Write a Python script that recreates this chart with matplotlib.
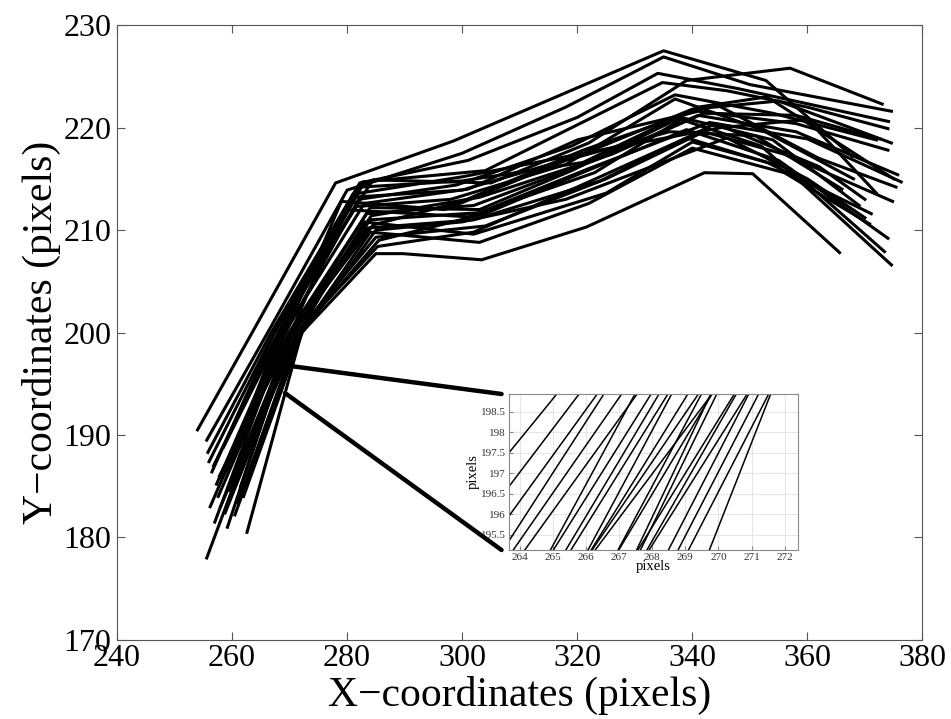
import matplotlib
matplotlib.use("Agg")
import matplotlib.pyplot as plt
from matplotlib.patches import ConnectionPatch

plt.rcParams['font.family'] = ['Liberation Serif', 'DejaVu Serif']

# tracked trajectories (x, y in pixels), one list per trajectory
track_x = [
    [254.0, 263.5, 278.0, 298.5, 335.0, 352.8, 367.8],
    [255.6, 266.2, 280.0, 300.0, 318.0, 335.0, 350.0, 374.6],
    [255.8, 266.8, 282.2, 301.0, 320.0, 334.0, 348.0, 374.1],
    [256.0, 267.3, 282.7, 304.0, 334.8, 346.0, 360.0, 374.0],
    [256.5, 267.4, 284.5, 305.0, 322.0, 339.0, 357.0, 373.0],
    [257.3, 268.8, 280.8, 300.0, 320.0, 340.0, 355.0, 374.6],
    [256.8, 268.0, 281.6, 298.0, 318.0, 337.0, 352.0, 368.0],
    [257.6, 269.9, 283.4, 302.0, 324.0, 341.0, 358.0, 375.7],
    [258.0, 270.6, 284.0, 303.0, 322.0, 343.0, 360.0, 376.3],
    [258.3, 270.3, 284.5, 300.0, 321.0, 344.0, 362.0, 375.4],
    [258.8, 271.3, 285.0, 304.0, 325.0, 342.0, 356.0, 374.8],
    [259.5, 271.3, 285.3, 302.0, 320.0, 339.0, 353.0, 371.1],
    [262.6, 272.1, 285.0, 289.7, 303.4, 321.6, 342.1, 350.5, 365.6],
    [260.5, 271.9, 284.0, 303.0, 322.0, 340.0, 356.0, 370.8],
    [261.0, 271.6, 283.0, 302.0, 325.0, 340.0, 357.0, 373.4],
    [255.6, 270.2, 279.5, 301.0, 323.0, 338.0, 352.0, 374.6],
    [257.0, 269.3, 282.0, 299.0, 319.0, 337.0, 354.0, 372.0],
    [259.0, 269.0, 283.0, 301.0, 320.0, 341.0, 358.0, 374.0],
    [260.0, 268.2, 281.0, 300.0, 322.0, 345.0, 360.0, 372.0],
    [261.5, 270.6, 284.0, 303.0, 319.0, 338.0, 354.0, 369.0],
    [256.2, 269.3, 279.0, 297.0, 318.0, 336.0, 351.0, 366.0],
    [258.5, 268.5, 282.5, 300.0, 321.0, 341.0, 353.0, 375.0],
    [257.8, 270.8, 283.5, 302.0, 324.0, 344.0, 362.0, 370.0],
    [260.8, 271.7, 285.5, 304.0, 320.0, 339.0, 355.0, 374.0],
    [262.0, 272.2, 285.0, 300.0, 318.0, 346.0, 360.0, 370.0],
    [259.2, 270.4, 284.2, 303.0, 326.0, 342.0, 358.0, 372.5],
]
track_y = [
    [190.5, 200.0, 214.6, 218.7, 227.5, 224.6, 217.2],
    [189.5, 200.0, 213.9, 217.5, 222.0, 226.9, 224.2, 221.6],
    [188.3, 200.0, 214.6, 216.8, 221.0, 225.3, 223.8, 220.6],
    [187.4, 200.0, 214.7, 215.8, 224.4, 223.6, 222.0, 219.9],
    [186.4, 200.0, 214.9, 214.6, 218.5, 224.6, 225.8, 222.3],
    [185.2, 200.0, 213.2, 213.9, 217.2, 221.8, 222.6, 218.5],
    [187.0, 200.0, 212.3, 213.0, 216.4, 222.8, 219.8, 215.0],
    [184.0, 200.0, 211.6, 212.4, 217.0, 221.2, 219.6, 215.4],
    [183.0, 200.0, 211.0, 211.7, 216.0, 220.5, 218.9, 214.7],
    [185.8, 200.0, 210.5, 212.8, 217.8, 222.3, 217.0, 214.2],
    [182.4, 200.0, 209.3, 210.4, 215.0, 219.6, 217.4, 212.8],
    [184.6, 200.0, 208.4, 209.8, 214.2, 219.0, 216.6, 211.6],
    [180.5, 200.0, 207.7, 207.7, 207.1, 210.3, 215.6, 215.5, 207.8],
    [182.2, 200.0, 209.8, 208.8, 212.6, 218.0, 215.6, 210.6],
    [183.4, 200.0, 210.8, 209.6, 213.6, 218.6, 216.0, 207.9],
    [178.0, 200.0, 212.0, 211.3, 215.6, 220.8, 218.2, 206.6],
    [181.5, 200.0, 213.0, 214.4, 218.2, 223.2, 221.4, 218.8],
    [186.5, 200.0, 212.6, 214.0, 218.8, 221.6, 220.4, 217.8],
    [187.8, 200.0, 213.5, 215.2, 217.6, 220.0, 220.8, 213.6],
    [185.0, 200.0, 212.2, 212.0, 215.8, 221.0, 218.8, 212.4],
    [183.0, 200.0, 212.8, 212.0, 216.8, 219.6, 219.2, 214.0],
    [188.8, 200.0, 214.2, 214.8, 216.6, 222.0, 223.0, 215.0],
    [186.0, 200.0, 210.2, 211.0, 214.8, 220.4, 216.2, 213.0],
    [186.0, 200.0, 209.0, 211.6, 215.4, 219.8, 216.8, 209.2],
    [184.0, 200.0, 210.0, 210.8, 213.0, 219.0, 215.0, 211.2],
    [181.0, 200.0, 211.4, 213.2, 217.4, 221.4, 221.2, 218.9],
]

main_xticks = [240, 260, 280, 300, 320, 340, 360, 380]
main_yticks = [170, 180, 190, 200, 210, 220, 230]
zoom_xticks = [264, 265, 266, 267, 268, 269, 270, 271, 272]
zoom_yticks = [195.5, 196, 196.5, 197, 197.5, 198, 198.5]
zoom_ylabels = ['195.5', '196', '196.5', '197', '197.5', '198', '198.5']

fig = plt.figure(figsize=(9.51, 7.19), dpi=100)
ax = fig.add_axes([0.123, 0.110, 0.847, 0.855])

for xs, ys in zip(track_x, track_y):
    ax.plot(xs, ys, color='black', linewidth=2.2)

ax.set_xlim(240, 380)
ax.set_ylim(170, 230)
ax.set_xticks(main_xticks)
ax.set_yticks(main_yticks)
ax.tick_params(direction='in', top=True, right=True, labelsize=23, length=6,
               color='#555555')
ax.tick_params(axis='x', pad=3)
ax.tick_params(axis='y', pad=4)
for sp in ax.spines.values():
    sp.set_color('#555555')
ax.set_xlabel('X\u2212coordinates (pixels)', fontsize=30)
ax.xaxis.set_label_coords(0.5, -0.058)
ax.xaxis.label.set_va('top')
ax.set_ylabel('Y\u2212coordinates (pixels)', fontsize=30, labelpad=2)

# zoomed inset
axin = fig.add_axes([0.535, 0.235, 0.304, 0.217])
for xs, ys in zip(track_x, track_y):
    axin.plot(xs, ys, color='black', linewidth=1.1)
axin.set_xlim(263.67, 272.4)
axin.set_ylim(195.13, 198.93)
axin.set_xticks(zoom_xticks)
axin.set_yticks(zoom_yticks)
axin.set_yticklabels(zoom_ylabels)
axin.grid(True, color='#e6e6e6', linewidth=0.8)
axin.tick_params(direction='in', labelsize=8, length=3, color='#888888',
                 labelcolor='#333333', pad=2)
for sp in axin.spines.values():
    sp.set_color('#888888')
axin.set_xlabel('pixels', fontsize=10.5, labelpad=-1)
axin.set_ylabel('pixels', fontsize=10.5, labelpad=1)

# connector lines from the zoomed spot to the inset
for pt, corner in [((270.6, 196.7), (-0.025, 1.0)), ((269.2, 194.1), (-0.025, 0.0))]:
    con = ConnectionPatch(xyA=pt, coordsA=ax.transData,
                          xyB=corner, coordsB=axin.transAxes,
                          color='black', linewidth=3.2)
    fig.add_artist(con)

fig.savefig('out.png', dpi=100)
